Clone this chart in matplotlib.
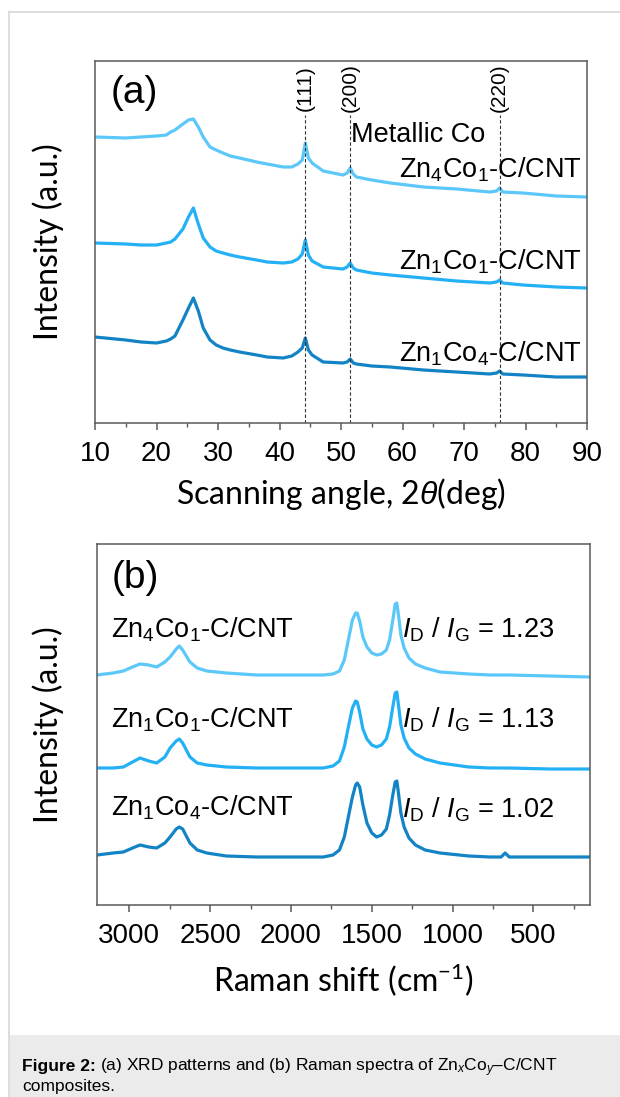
import matplotlib
matplotlib.use("Agg")
import matplotlib.pyplot as plt
from matplotlib.patches import Rectangle
from matplotlib.lines import Line2D

plt.rcParams['font.family'] = ['Liberation Sans', 'DejaVu Sans']
plt.rcParams['mathtext.fontset'] = 'custom'
plt.rcParams['mathtext.rm'] = 'Liberation Sans'
plt.rcParams['mathtext.it'] = 'Liberation Sans:italic'

# ---- data (intensities in a.u., offset stacks) ----
samples = ['Zn$_4$Co$_1$-C/CNT', 'Zn$_1$Co$_1$-C/CNT', 'Zn$_1$Co$_4$-C/CNT']
colors = ['#5CC8FA', '#23B0F5', '#1283C4']

xrd_angle = [10, 15, 17.5, 20, 21.6, 22.3, 23, 24.3, 25.2, 26.0,
             26.8, 27.6, 28.7, 29.7, 30.8, 32, 33.5, 36.3, 38, 40.6,
             42, 43.0, 43.7, 44.2, 44.7, 45.3, 47.1, 50.3, 51.0, 51.5,
             52.0, 52.5, 55, 58, 63.4, 68.8, 74.2, 75.3, 75.8, 76.3,
             79.6, 85, 90]
xrd_zn4co1 = [286, 285, 286, 287, 288, 291, 293, 299, 303, 304,
              296, 286, 276, 273, 270, 267, 265, 261, 259, 256,
              256, 259, 263, 280, 265, 260, 252, 248, 250, 255,
              249, 246, 243, 240, 236, 234, 231, 232, 235, 231,
              230, 227, 226]
xrd_zn1co1 = [180, 179, 178, 178, 180, 181, 184, 194, 206, 215,
              199, 185, 176, 172, 170, 168, 166, 163, 161, 160,
              161, 164, 169, 183, 168, 162, 156, 154, 156, 160,
              155, 153, 150, 148, 145, 142, 140, 141, 143, 140,
              138, 136, 135]
xrd_zn1co4 = [86, 83, 81, 80, 82, 84, 87, 103, 115, 125,
              112, 95, 83, 78, 75, 73, 71, 68, 66, 65,
              67, 71, 75, 85, 73, 68, 61, 60, 61, 64,
              60, 59, 57, 56, 53, 51, 49, 50, 52, 49,
              48, 46, 46]
co_peaks = [44.2, 51.5, 75.8]
co_planes = ['(111)', '(200)', '(220)']

raman_shift = [3200, 3100, 3037, 2980, 2934, 2880, 2831, 2780, 2748, 2710,
               2691, 2670, 2625, 2580, 2521, 2400, 2212, 2000, 1800, 1740,
               1700, 1670, 1645, 1620, 1600, 1590, 1575, 1555, 1530, 1500,
               1470, 1440, 1410, 1390, 1370, 1355, 1345, 1335, 1320, 1300,
               1270, 1230, 1170, 1078, 900, 768, 700, 675, 650, 400,
               150]
raman_zn4co1 = [230, 232, 234, 238, 241, 240, 238, 243, 248, 256,
                259, 255, 243, 237, 234, 232, 230, 230, 230, 231,
                234, 245, 265, 285, 292, 292, 284, 268, 258, 252,
                250, 251, 255, 265, 285, 301, 302, 290, 270, 257,
                247, 241, 237, 233, 231, 230, 230, 230, 230, 229,
                228]
raman_zn1co1 = [137, 137, 138, 143, 147, 144, 142, 148, 157, 164,
                166, 162, 148, 142, 140, 138, 137, 137, 137, 139,
                144, 158, 178, 197, 204, 203, 193, 176, 166, 160,
                158, 160, 166, 178, 198, 212, 213, 200, 180, 167,
                157, 151, 146, 142, 138, 137, 137, 137, 137, 136,
                136]
raman_zn1co4 = [50, 52, 53, 57, 60, 58, 57, 62, 68, 76,
                78, 76, 62, 55, 52, 49, 48, 48, 48, 50,
                55, 68, 88, 108, 120, 122, 118, 100, 82, 72,
                68, 70, 76, 90, 110, 123, 124, 112, 92, 78,
                67, 60, 55, 52, 49, 48, 48, 52, 48, 48,
                48]
id_ig = [1.23, 1.13, 1.02]

W, H = 620, 1097
fig = plt.figure(figsize=(W / 100, H / 100), dpi=100)

# page frame and caption box
fig.add_artist(Line2D([9 / W, 9 / W], [0, 1 - 12 / H], transform=fig.transFigure,
                      color='#D8D8D8', lw=1.2))
fig.add_artist(Line2D([9 / W, 1], [1 - 12 / H, 1 - 12 / H], transform=fig.transFigure,
                      color='#D8D8D8', lw=1.2))
fig.add_artist(Rectangle((9 / W, 0), 1 - 9 / W, 62 / H, transform=fig.transFigure,
                         facecolor='#EBEBEB', edgecolor='none'))


def make_axes(left, top, right, bottom):
    ax = fig.add_axes([left / W, 1 - bottom / H, (right - left) / W, (bottom - top) / H])
    for s in ax.spines.values():
        s.set_color('#5A5A5A')
        s.set_linewidth(1.1)
    ax.set_yticks([])
    ax.tick_params(axis='x', which='both', direction='out', color='#5A5A5A',
                   labelsize=20, pad=8)
    ax.tick_params(axis='x', which='major', length=5, width=1.1)
    ax.tick_params(axis='x', which='minor', length=3, width=1.0)
    return ax


label_font = dict(family=['Lato', 'DejaVu Sans'], fontsize=23)
txt = 19.5

# ---- (a) XRD ----
ax1 = make_axes(95, 61, 587, 423)
for ys, c in zip([xrd_zn4co1, xrd_zn1co1, xrd_zn1co4], colors):
    ax1.plot(xrd_angle, ys, color=c, lw=2.3)
ax1.set_xlim(10, 90)
ax1.set_ylim(0, 362)
ax1.set_xticks(range(10, 91, 10))
ax1.set_xticks(range(15, 90, 10), minor=True)
ax1.vlines(co_peaks, 0, 308, colors='#333333', linestyles=(0, (3, 2)), lw=0.8)
for xp, lab in zip(co_peaks, co_planes):
    ax1.text(xp, 335, lab, rotation=90, ha='center', va='center', fontsize=15)
ax1.text(51.7, 281, 'Metallic Co', ha='left', va='baseline', fontsize=txt)
for lab, yb in zip(samples, [245, 154, 61]):
    ax1.text(89.1, yb, lab, ha='right', va='baseline', fontsize=txt)
ax1.text(12.5, 320, '(a)', ha='left', va='baseline', fontsize=28)
ax1.set_xlabel(r'Scanning angle, 2$\theta$(deg)', **label_font)
ax1.xaxis.set_label_coords(0.5, -0.146)
ax1.set_ylabel('Intensity (a.u.)', **label_font)
ax1.yaxis.set_label_coords(-0.063, 0.5)

# ---- (b) Raman ----
ax2 = make_axes(97, 544, 590, 905)
for ys, c in zip([raman_zn4co1, raman_zn1co1, raman_zn1co4], colors):
    ax2.plot(raman_shift, ys, color=c, lw=2.3)
ax2.set_xlim(3200, 150)
ax2.set_ylim(0, 361)
ax2.set_xticks(range(500, 3001, 500))
ax2.set_xticks(range(250, 3200, 500), minor=True)
for lab, yb in zip(samples, [268, 178, 90]):
    ax2.text(3115, yb, lab, ha='left', va='baseline', fontsize=txt)
for r, yb in zip(id_ig, [267, 177, 87]):
    ax2.text(1314, yb, r'$\it{I}_{\rm D}$ / $\it{I}_{\rm G}$ = %.2f' % r,
             ha='left', va='baseline', fontsize=txt)
ax2.text(3109, 317, '(b)', ha='left', va='baseline', fontsize=28)
ax2.set_xlabel(r'Raman shift (cm$^{\mathregular{-1}}$)', **label_font)
ax2.xaxis.set_label_coords(0.5, -0.157)
ax2.set_ylabel('Intensity (a.u.)', **label_font)
ax2.yaxis.set_label_coords(-0.067, 0.5)

# ---- caption ----
cap_y1 = 1 - 1071 / H
cap_y2 = 1 - 1091 / H
t = fig.text(22 / W, cap_y1, 'Figure 2:', fontsize=12.5, fontweight='bold', va='baseline')
r = fig.canvas.get_renderer()
bb = t.get_window_extent(r)
fig.text(bb.x1 / W + 4 / W, cap_y1,
         '(a) XRD patterns and (b) Raman spectra of Zn$_{\\it{x}}$Co$_{\\it{y}}$\u2013C/CNT',
         fontsize=12.5, va='baseline')
fig.text(22 / W, cap_y2, 'composites.', fontsize=12.5, va='baseline')

fig.savefig('out.png', dpi=100)
